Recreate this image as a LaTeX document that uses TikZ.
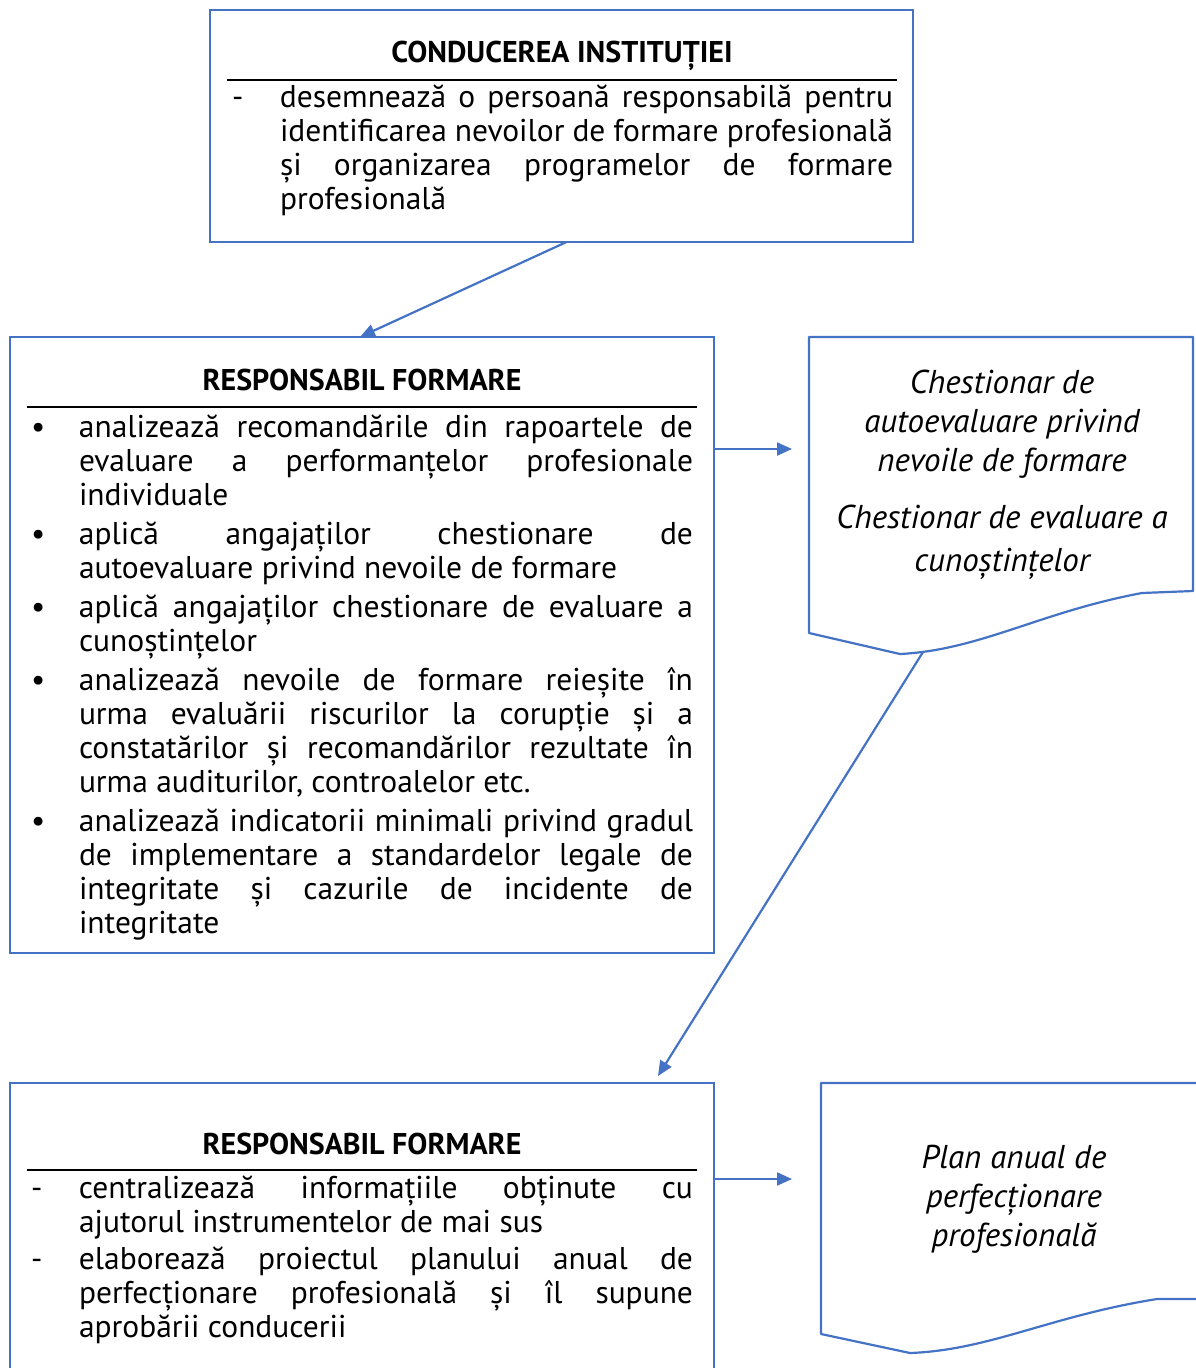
\documentclass[tikz,border=0pt]{standalone}
\usepackage{fontspec}
\setmainfont{PT Sans}
\usetikzlibrary{arrows.meta}
\definecolor{frameblue}{HTML}{4472C4}
\newcommand{\titlefont}{\fontsize{30}{32}\selectfont\bfseries}
\newcommand{\bodyfont}{\fontsize{31.5}{34}\selectfont}
\newcommand{\docfont}{\fontsize{33}{39}\selectfont\itshape}
\newcommand{\listitem}[2]{\par\hangindent=48pt\hangafter=1\noindent\makebox[48pt][l]{#1}#2}
\tikzset{
  x=1pt, y=-1pt,
  panel/.style={draw=frameblue, line width=2.2pt, inner sep=0pt, outer sep=0pt, anchor=north west},
  flow/.style={draw=frameblue, line width=2.2pt, -{Triangle[length=15pt,width=13pt]}},
  titlerule/.style={line width=1.8pt, black},
  txt/.style={inner sep=0pt, outer sep=0pt},
  docline/.style={draw=frameblue, line width=2.2pt, line join=round},
}
\begin{document}
\begin{tikzpicture}
\useasboundingbox (0,0) rectangle (1195,1368);

% --- leadership box
\node[panel, minimum width=703pt, minimum height=232pt] (lead) at (210,10) {};
\node[txt, anchor=base] (leadtitle) at (562,62) {\titlefont CONDUCEREA INSTITUȚIEI};
\draw[titlerule] (227,80) -- (897,80);
\node[txt, anchor=base west] (leadtext) at (232,107) {\parbox[t]{661pt}{\bodyfont
  \listitem{-}{desemnează o persoană responsabilă pentru\linebreak
  identificarea nevoilor de formare profesională\linebreak
  și organizarea programelor de formare\linebreak profesională}}};

% --- first training officer box
\node[panel, minimum width=704pt, minimum height=616pt] (resp) at (10,337) {};
\node[txt, anchor=base] (resptitle) at (362,390) {\titlefont RESPONSABIL FORMARE};
\draw[titlerule] (27,407) -- (697,407);
\node[txt, anchor=base west] (resptext) at (31,437) {\parbox[t]{662pt}{\bodyfont\parskip=5pt
  \listitem{•}{analizează recomandările din rapoartele de\linebreak
  evaluare a performanțelor profesionale\linebreak individuale}
  \listitem{•}{aplică angajaților chestionare de\linebreak
  autoevaluare privind nevoile de formare}
  \listitem{•}{aplică angajaților chestionare de evaluare a\linebreak
  cunoștințelor}
  \listitem{•}{analizează nevoile de formare reieșite în\linebreak
  urma evaluării riscurilor la corupție și a\linebreak
  constatărilor și recomandărilor rezultate în\linebreak
  urma auditurilor, controalelor etc.}
  \listitem{•}{analizează indicatorii minimali privind gradul\linebreak
  de implementare a standardelor legale de\linebreak
  integritate și cazurile de incidente de\linebreak integritate}}};

% --- questionnaires document
\draw[docline] (809,337) -- (1193,337) -- (1193,591) -- (1142,593)
  .. controls (1040,612) and (980,650) .. (900,654) -- (809,633) -- cycle;
\coordinate (questin) at (792,449);
\coordinate (questout) at (923,652);
\node[txt, anchor=base] (questa) at (1002,393) {\parbox[t]{380pt}{\centering\docfont
  Chestionar de\\ autoevaluare privind\\ nevoile de formare}};
\node[txt, anchor=base] (questb) at (1002,528) {\parbox[t]{380pt}{\centering\fontsize{33}{43}\selectfont\itshape
  Chestionar de evaluare a\\ cunoștințelor}};

% --- second training officer box
\node[panel, minimum width=704pt, minimum height=300pt] (plan) at (10,1083) {};
\node[txt, anchor=base] (plantitle) at (362,1154) {\titlefont RESPONSABIL FORMARE};
\draw[titlerule] (27,1170) -- (697,1170);
\node[txt, anchor=base west] (plantext) at (31,1198) {\parbox[t]{662pt}{\bodyfont\parskip=3pt
  \listitem{-}{centralizează informațiile obținute cu\linebreak
  ajutorul instrumentelor de mai sus}
  \listitem{-}{elaborează proiectul planului anual de\linebreak
  perfecționare profesională și îl supune\linebreak\vadjust{\vskip4pt}%
  aprobării conducerii}}};

% --- annual plan document
\draw[docline] (821,1083) -- (1199,1083) -- (1199,1299) -- (1157,1299)
  .. controls (1050,1316) and (990,1350) .. (910,1353) -- (821,1334) -- cycle;
\coordinate (annualin) at (792,1179);
\node[txt, anchor=base] (annual) at (1014,1168) {\parbox[t]{320pt}{\centering\docfont
  Plan anual de\\ perfecționare\\ profesională}};

% --- connectors
\draw[flow] ([xshift=5pt]lead.south) -- ([xshift=-2pt]resp.north);
\draw[flow] (resp.east |- questin) -- (questin);
\draw[flow] (questout) -- ([shift={(296pt,7pt)}]plan.north);
\draw[flow] (plan.east |- annualin) -- (annualin);
\end{tikzpicture}
\end{document}
